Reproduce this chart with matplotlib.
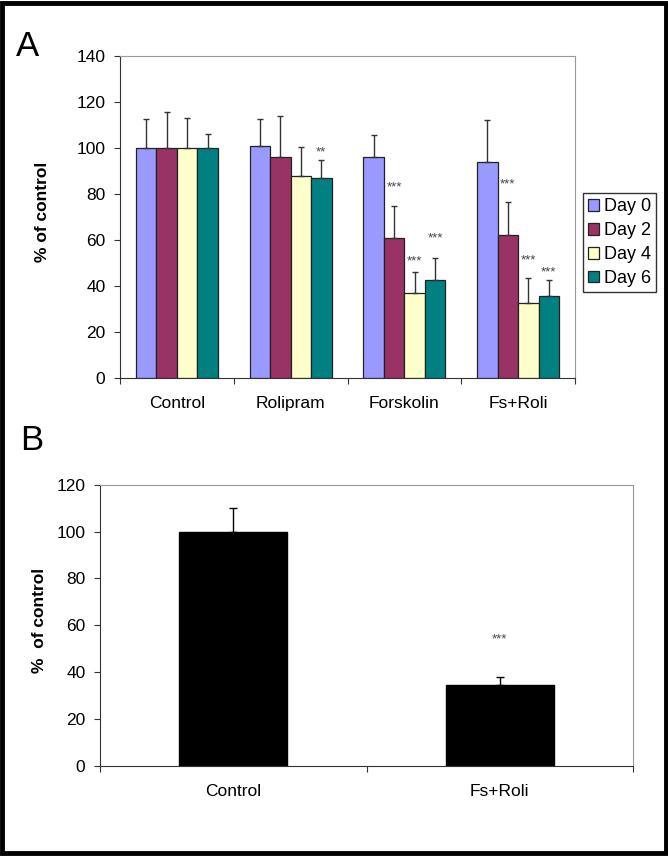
import matplotlib
matplotlib.use('Agg')
import matplotlib.pyplot as plt
import numpy as np
from matplotlib.patches import Rectangle

plt.rcParams['font.family'] = ['Liberation Sans', 'DejaVu Sans']

# panel A data
groups = ['Control', 'Rolipram', 'Forskolin', 'Fs+Roli']
days = ['Day 0', 'Day 2', 'Day 4', 'Day 6']
day0 = [100, 101, 96, 94]
day2 = [100, 96, 61, 62]
day4 = [100, 88, 37, 32.5]
day6 = [100, 87, 42.5, 35.5]
err0 = [12.5, 11.5, 9.5, 18]
err2 = [15.5, 18, 14, 14.5]
err4 = [13, 12.5, 9, 11]
err6 = [6, 8, 9.5, 7]
# significance marks per day (rows) and group (columns)
stars_a = [['', '', '', ''],
           ['', '', '***', '***'],
           ['', '', '***', '***'],
           ['', '**', '***', '***']]
star_y_a = [[0, 0, 0, 0],
            [0, 0, 83, 84],
            [0, 0, 50.5, 51],
            [0, 98, 60.5, 46]]

# panel B data
groups_b = ['Control', 'Fs+Roli']
vals_b = [100, 34.5]
err_b = [10, 3.5]
stars_b = ['', '***']
star_y_b = [0, 54]

colors = ['#9999FF', '#993366', '#FFFFCC', '#008080']

fig = plt.figure(figsize=(6.68, 8.56), dpi=100)
fig.patches.append(Rectangle((0.003, 0.003), 0.994, 0.994, transform=fig.transFigure,
                             fill=False, edgecolor='black', linewidth=3.5))

# ---- panel A ----
ax = fig.add_axes([120 / 668, 1 - 378 / 856, 455 / 668, 322 / 856])
x = np.arange(len(groups)) + 0.5
w = 0.18
vals = [day0, day2, day4, day6]
errs = [err0, err2, err4, err6]
for i in range(4):
    xi = x + (i - 1.5) * w
    ax.bar(xi, vals[i], w, color=colors[i], edgecolor='#222222', linewidth=0.9,
           label=days[i], zorder=2)
    ax.errorbar(xi, vals[i], yerr=[np.zeros(4), errs[i]], fmt='none',
                ecolor='#333333', elinewidth=1, capsize=2.5, capthick=1, zorder=3)
    for j in range(4):
        if stars_a[i][j]:
            ax.text(xi[j], star_y_a[i][j], stars_a[i][j], ha='center', va='center',
                    fontsize=9.5, color='#444444')

ax.set_xlim(0, 4)
ax.set_ylim(0, 140)
ax.set_yticks(range(0, 141, 20))
ax.set_xticks(range(5))
ax.set_xticklabels([])
ax.set_xticks(x, minor=True)
ax.set_xticklabels(groups, minor=True)
ax.tick_params(axis='x', which='minor', length=0, pad=13, labelsize=12.5)
ax.tick_params(axis='x', which='major', length=4, color='#333333')
ax.tick_params(axis='y', length=4.5, pad=6, labelsize=12.5, color='#333333')
ax.set_ylabel('% of control', fontsize=12.5, fontweight='bold')
ax.yaxis.set_label_coords(-0.154, 0.516)
for s in ['top', 'right']:
    ax.spines[s].set_color('#999999')
for s in ['left', 'bottom']:
    ax.spines[s].set_color('#333333')

ax.legend(loc='upper left', bbox_to_anchor=(583 / 668, 1 - 193 / 856),
          bbox_transform=fig.transFigure, frameon=True, fancybox=False,
          edgecolor='black', fontsize=13, handlelength=0.6, handleheight=0.6,
          handletextpad=0.25, labelspacing=0.38, borderpad=0.3, borderaxespad=0)
fig.text(27 / 668, 1 - 47 / 856, 'A', fontsize=25, ha='center', va='center')

# ---- panel B ----
bx = fig.add_axes([100 / 668, 1 - 765.7 / 856, 533 / 668, 281 / 856])
xb = np.arange(len(groups_b)) + 0.5
bx.bar(xb, vals_b, 0.405, color='black', edgecolor='black', zorder=2)
bx.errorbar(xb, vals_b, yerr=[np.zeros(2), err_b], fmt='none', ecolor='black',
            elinewidth=1, capsize=3, capthick=1, zorder=3)
for j in range(2):
    if stars_b[j]:
        bx.text(xb[j], star_y_b[j], stars_b[j], ha='center', va='center',
                fontsize=9.5, color='#444444')
bx.set_xlim(0, 2)
bx.set_ylim(0, 120)
bx.set_yticks(range(0, 121, 20))
bx.set_xticks(range(3))
bx.set_xticklabels([])
bx.set_xticks(xb, minor=True)
bx.set_xticklabels(groups_b, minor=True)
bx.tick_params(axis='x', which='minor', length=0, pad=13, labelsize=12.5)
bx.tick_params(axis='x', which='major', length=4, color='#333333')
bx.tick_params(axis='y', length=4.5, pad=6, labelsize=12.5, color='#333333')
bx.set_ylabel('%  of control', fontsize=12.5, fontweight='bold')
bx.yaxis.set_label_coords(-0.1, 0.518)
for s in ['top', 'right']:
    bx.spines[s].set_color('#999999')
for s in ['left', 'bottom']:
    bx.spines[s].set_color('#333333')
fig.text(32 / 668, 1 - 441 / 856, 'B', fontsize=25, ha='center', va='center')

fig.savefig('out.png', dpi=100)
